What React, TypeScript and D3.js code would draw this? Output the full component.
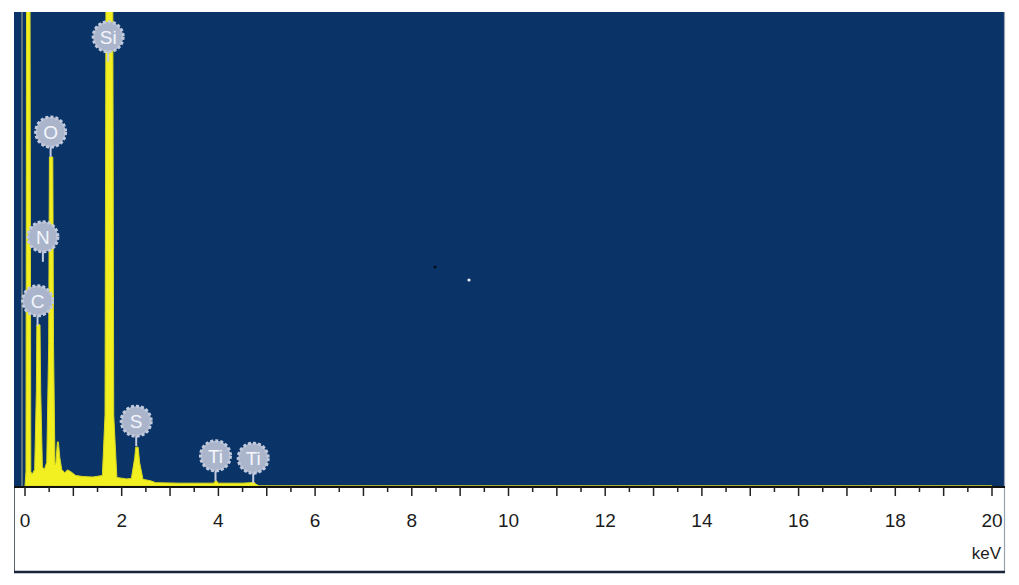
import React, { useRef, useEffect } from "react";
import * as d3 from "d3";

// spectrum (keV, counts in arbitrary units, 1000 = top of the plot)
const energies = [
  0.0, 0.02, 0.035, 0.1, 0.12, 0.15, 0.2, 0.235, 0.245, 0.31, 0.325, 0.36, 0.4, 0.45, 0.49, 0.505,
  0.575, 0.59, 0.62, 0.64, 0.67, 0.69, 0.72, 0.76, 0.82, 0.88, 0.95, 1.05, 1.2, 1.4, 1.6, 1.655,
  1.68, 1.81, 1.835, 1.9, 2.1, 2.2, 2.27, 2.29, 2.34, 2.37, 2.44, 2.6, 2.7, 3.2, 3.9, 3.95, 4.0,
  4.5, 4.68, 4.72, 4.77, 4.85, 20.0
];
const counts = [
  0, 30, 1300, 1300, 30, 25, 35, 200, 340, 340, 200, 40, 35, 50, 300, 694,
  694, 300, 45, 50, 93, 93, 60, 35, 28, 34, 30, 22, 20, 19, 22, 150,
  1300, 1300, 150, 18, 15, 16, 60, 82, 82, 50, 14, 11, 7, 6, 6, 12, 6,
  6, 7, 10, 4, 0, 0
];

// element markers: name, energy (keV), count where the marker's stem ends
const peakNames = ["Si", "O", "N", "C", "S", "Ti", "Ti"];
const peakEnergies = [1.72, 0.53, 0.37, 0.26, 2.3, 3.94, 4.72];
const peakCounts = [895, 694, 473, 338, 84, 11, 6];

const tickValues = d3.range(0, 20.5, 0.5);
const labelValues = [0, 2, 4, 6, 8, 10, 12, 14, 16, 18, 20];
const unitLabel = "keV";

const App = () => {
  const svgRef = useRef<SVGSVGElement>(null);

  useEffect(() => {
    const W = 1019;
    const H = 585;
    const plot = { left: 14, right: 1005, top: 12, bottom: 487 };
    const panelBottom = 572;

    const svg = d3.select(svgRef.current);
    svg.selectAll("*").remove();

    const x = d3.scaleLinear().domain([0, 20]).range([25, 992]);
    const y = d3.scaleLinear().domain([0, 1000]).range([486, plot.top]);

    svg.append("rect").attr("width", W).attr("height", H).attr("fill", "#ffffff");

    // blue plot area
    svg
      .append("rect")
      .attr("x", plot.left)
      .attr("y", plot.top)
      .attr("width", plot.right - plot.left)
      .attr("height", plot.bottom - plot.top)
      .attr("fill", "#0a3468");

    svg
      .append("defs")
      .append("clipPath")
      .attr("id", "plotClip")
      .append("rect")
      .attr("x", plot.left)
      .attr("y", plot.top)
      .attr("width", plot.right - plot.left)
      .attr("height", plot.bottom - plot.top);

    // pale y axis line
    svg
      .append("line")
      .attr("x1", 22)
      .attr("x2", 22)
      .attr("y1", plot.top)
      .attr("y2", plot.bottom)
      .attr("stroke", "#8f9a8a")
      .attr("stroke-width", 1.2);

    const data = energies.map((e, i) => ({ e, c: counts[i] }));
    const area = d3
      .area<{ e: number; c: number }>()
      .x((d) => x(d.e))
      .y0(y(0))
      .y1((d) => y(d.c))
      .curve(d3.curveLinear);

    svg
      .append("path")
      .datum(data)
      .attr("clip-path", "url(#plotClip)")
      .attr("d", area)
      .attr("fill", "#f2f020")
      .attr("stroke", "#d8d820")
      .attr("stroke-width", 1)
      .attr("stroke-linejoin", "round");

    // small specks in the plot
    svg.append("circle").attr("cx", 435).attr("cy", 267).attr("r", 1.6).attr("fill", "#02101f");
    svg.append("circle").attr("cx", 469).attr("cy", 280).attr("r", 1.6).attr("fill", "#e8eef8");

    // element markers
    const markers = svg
      .selectAll(".marker")
      .data(peakNames.map((n, i) => ({ n, e: peakEnergies[i], c: peakCounts[i] })))
      .enter()
      .append("g")
      .attr("class", "marker");

    markers
      .append("line")
      .attr("x1", (d) => x(d.e))
      .attr("x2", (d) => x(d.e))
      .attr("y1", (d) => y(d.c) - 24)
      .attr("y2", (d) => y(d.c))
      .attr("stroke", "#c3cbe0")
      .attr("stroke-width", 2);

    markers
      .append("circle")
      .attr("cx", (d) => x(d.e))
      .attr("cy", (d) => y(d.c) - 25)
      .attr("r", 15)
      .attr("fill", "#aab5cc")
      .attr("stroke", "#c2cadc")
      .attr("stroke-width", 3)
      .attr("stroke-dasharray", "3 2");

    markers
      .append("text")
      .attr("x", (d) => x(d.e))
      .attr("y", (d) => y(d.c) - 25)
      .attr("dy", "0.36em")
      .attr("text-anchor", "middle")
      .attr("font-family", "Liberation Sans, Arial, sans-serif")
      .attr("font-size", "19px")
      .attr("fill", "#f4f6fb")
      .text((d) => d.n);

    // white panel below axis
    svg
      .append("line")
      .attr("x1", plot.left + 0.5)
      .attr("x2", plot.left + 0.5)
      .attr("y1", plot.bottom)
      .attr("y2", panelBottom)
      .attr("stroke", "#5a6070")
      .attr("stroke-width", 1);
    svg
      .append("line")
      .attr("x1", plot.right - 0.5)
      .attr("x2", plot.right - 0.5)
      .attr("y1", plot.top)
      .attr("y2", panelBottom)
      .attr("stroke", "#9aa2b0")
      .attr("stroke-width", 1.2);
    svg
      .append("line")
      .attr("x1", plot.left)
      .attr("x2", plot.right)
      .attr("y1", panelBottom)
      .attr("y2", panelBottom)
      .attr("stroke", "#17243a")
      .attr("stroke-width", 2.5);

    // x axis
    svg
      .append("line")
      .attr("x1", plot.left)
      .attr("x2", plot.right)
      .attr("y1", plot.bottom)
      .attr("y2", plot.bottom)
      .attr("stroke", "#111111")
      .attr("stroke-width", 2);

    svg
      .append("g")
      .selectAll("line")
      .data(tickValues)
      .enter()
      .append("line")
      .attr("x1", (d) => x(d))
      .attr("x2", (d) => x(d))
      .attr("y1", plot.bottom)
      .attr("y2", (d) => plot.bottom + (Number.isInteger(d) ? 9 : 5))
      .attr("stroke", "#222222")
      .attr("stroke-width", 1.5);

    svg
      .append("g")
      .selectAll("text")
      .data(labelValues)
      .enter()
      .append("text")
      .attr("x", (d) => x(d))
      .attr("y", 527)
      .attr("text-anchor", "middle")
      .attr("font-family", "Liberation Sans, Arial, sans-serif")
      .attr("font-size", "19px")
      .attr("fill", "#1c1c1c")
      .text((d) => d);

    svg
      .append("text")
      .attr("x", 1001)
      .attr("y", 559)
      .attr("text-anchor", "end")
      .attr("font-family", "Liberation Sans, Arial, sans-serif")
      .attr("font-size", "17px")
      .attr("fill", "#1c1c1c")
      .text(unitLabel);
  }, []);

  return (
    <svg
      ref={svgRef}
      width={1019}
      height={585}
      style={{ position: "absolute", left: 0, top: 0, display: "block" }}
    ></svg>
  );
};

export default App;
